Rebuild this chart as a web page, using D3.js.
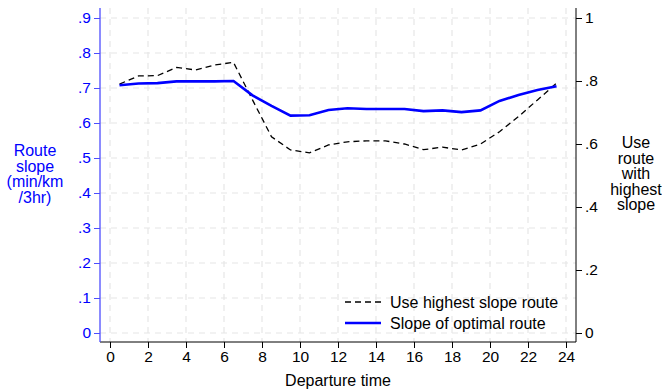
<!DOCTYPE html>
<html>
<head>
<meta charset="utf-8">
<script src="https://cdn.jsdelivr.net/npm/d3@7"></script>
<style>
  body { margin: 0; background: #fff; }
  text { font-family: "Liberation Sans", Arial, sans-serif; }
</style>
</head>
<body>
<div id="chart"></div>
<script>
const width = 662;
const height = 391;

// departure hour (half-hour midpoints)
const hours = [0.5, 1.5, 2.5, 3.5, 4.5, 5.5, 6.5, 7.5, 8.5, 9.5, 10.5, 11.5,
    12.5, 13.5, 14.5, 15.5, 16.5, 17.5, 18.5, 19.5, 20.5, 21.5, 22.5, 23.5];

// slope of optimal route (left axis)
const optimalSlope = [0.708, 0.713, 0.714, 0.719, 0.719, 0.719, 0.720, 0.679,
    0.649, 0.621, 0.622, 0.637, 0.642, 0.640, 0.640, 0.640, 0.634, 0.636,
    0.631, 0.636, 0.663, 0.680, 0.694, 0.705];

// share using highest slope route (right axis)
const useHighest = [0.790, 0.816, 0.817, 0.843, 0.835, 0.851, 0.859, 0.740,
    0.623, 0.581, 0.572, 0.597, 0.607, 0.610, 0.610, 0.600, 0.582, 0.590,
    0.581, 0.600, 0.639, 0.687, 0.740, 0.793];

const xTicks = d3.range(0, 25, 2);
const yLeftTicks = [0, 0.1, 0.2, 0.3, 0.4, 0.5, 0.6, 0.7, 0.8, 0.9];
const yRightTicks = [0, 0.2, 0.4, 0.6, 0.8, 1];

const fmt = d => d === 0 ? "0" : (d === 1 ? "1" : d3.format(".1f")(d).replace(/^0/, ""));

const plot = { left: 100, right: 576, top: 8, bottom: 342 };

const x = d3.scaleLinear().domain([0, 24]).range([110, 566]);
const yL = d3.scaleLinear().domain([0, 0.9]).range([333, 18]);
const yR = d3.scaleLinear().domain([0, 1]).range([333, 18]);

const svg = d3.select("#chart")
    .append("svg")
    .attr("width", width)
    .attr("height", height);

// grid
const grid = svg.append("g")
    .attr("stroke", "#e6e6e6")
    .attr("stroke-width", 1.2)
    .attr("stroke-dasharray", "6,5");

grid.selectAll("line.v")
    .data(xTicks)
    .join("line")
    .attr("class", "v")
    .attr("x1", d => x(d)).attr("x2", d => x(d))
    .attr("y1", plot.top).attr("y2", plot.bottom);

grid.selectAll("line.h")
    .data(yLeftTicks)
    .join("line")
    .attr("class", "h")
    .attr("x1", plot.left).attr("x2", plot.right)
    .attr("y1", d => yL(d)).attr("y2", d => yL(d));

// axes
const xAxis = svg.append("g")
    .attr("transform", `translate(0,${plot.bottom})`)
    .call(d3.axisBottom(x).tickValues(xTicks).tickSize(6).tickPadding(3).tickFormat(d3.format("d")));
xAxis.select(".domain").attr("d", `M${plot.left},0H${plot.right}`).attr("stroke", "#000");
xAxis.selectAll(".tick line").attr("stroke", "#000");
xAxis.selectAll("text").attr("font-size", 15.5).attr("fill", "#000");

const leftAxis = svg.append("g")
    .attr("transform", `translate(${plot.left},0)`)
    .call(d3.axisLeft(yL).tickValues(yLeftTicks).tickSize(6).tickPadding(3).tickFormat(fmt));
leftAxis.select(".domain").attr("d", `M0,${plot.top}V${plot.bottom}`).attr("stroke", "#4d4dff").attr("stroke-width", 1.3);
leftAxis.selectAll(".tick line").attr("stroke", "#4d4dff");
leftAxis.selectAll("text").attr("font-size", 15.5).attr("fill", "#0000ff");

const rightAxis = svg.append("g")
    .attr("transform", `translate(${plot.right},0)`)
    .call(d3.axisRight(yR).tickValues(yRightTicks).tickSize(6).tickPadding(3).tickFormat(fmt));
rightAxis.select(".domain").attr("d", `M0,${plot.top}V${plot.bottom}`).attr("stroke", "#000");
rightAxis.selectAll(".tick line").attr("stroke", "#000");
rightAxis.selectAll("text").attr("font-size", 15.5).attr("fill", "#000");

// lines
const rows = hours.map((h, i) => ({ h, opt: optimalSlope[i], use: useHighest[i] }));

svg.append("path")
    .datum(rows)
    .attr("fill", "none")
    .attr("stroke", "#000")
    .attr("stroke-width", 1.3)
    .attr("stroke-dasharray", "6,4")
    .attr("d", d3.line().x(d => x(d.h)).y(d => yR(d.use)));

svg.append("path")
    .datum(rows)
    .attr("fill", "none")
    .attr("stroke", "#0000ff")
    .attr("stroke-width", 2.6)
    .attr("d", d3.line().x(d => x(d.h)).y(d => yL(d.opt)));

// axis titles
svg.append("text")
    .attr("x", x(12)).attr("y", 386)
    .attr("text-anchor", "middle")
    .attr("font-size", 16)
    .text("Departure time");

const leftTitle = svg.append("text")
    .attr("text-anchor", "middle")
    .attr("font-size", 16)
    .attr("fill", "#0000ff");
["Route", "slope", "(min/km", "/3hr)"].forEach((s, i) => {
    leftTitle.append("tspan").attr("x", 35).attr("y", 156 + i * 15.7).text(s);
});

const rightTitle = svg.append("text")
    .attr("text-anchor", "middle")
    .attr("font-size", 16)
    .attr("fill", "#000");
["Use", "route", "with", "highest", "slope"].forEach((s, i) => {
    rightTitle.append("tspan").attr("x", 636).attr("y", 148 + i * 15.6).text(s);
});

// legend
const legend = svg.append("g");
const items = [
    { label: "Use highest slope route", dash: "6,4", color: "#000", w: 1.3 },
    { label: "Slope of optimal route", dash: null, color: "#0000ff", w: 2.6 }
];
items.forEach((it, i) => {
    const yy = 302 + i * 21;
    legend.append("line")
        .attr("x1", 345).attr("x2", 381)
        .attr("y1", yy).attr("y2", yy)
        .attr("stroke", it.color)
        .attr("stroke-width", it.w)
        .attr("stroke-dasharray", it.dash);
    legend.append("text")
        .attr("x", 390).attr("y", yy + 5.5)
        .attr("font-size", 16)
        .text(it.label);
});
</script>
</body>
</html>
